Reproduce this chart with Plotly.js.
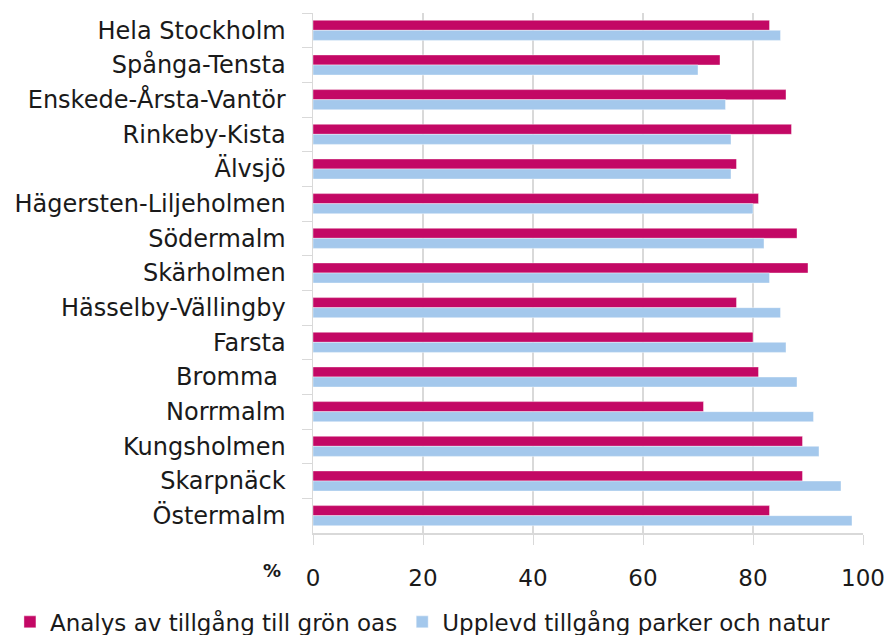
<!DOCTYPE html>
<html>
<head>
<meta charset="utf-8">
<script src="https://cdn.plot.ly/plotly-3.0.1.min.js"></script>
<style>html,body{margin:0;padding:0;background:#fff;}#chart{width:886px;height:635px;}</style>
</head>
<body>
<div id="chart"></div>
<script>
const categories = ["Hela Stockholm","Spånga-Tensta","Enskede-Årsta-Vantör","Rinkeby-Kista","Älvsjö","Hägersten-Liljeholmen","Södermalm","Skärholmen","Hässelby-Vällingby","Farsta","Bromma ","Norrmalm","Kungsholmen","Skarpnäck","Östermalm"];
const analysValues = [83,74,86,87,77,81,88,90,77,80,81,71,89,89,83];
const upplevdValues = [85,70,75,76,76,80,82,83,85,86,88,91,92,96,98];
const seriesNames = ["Analys av tillgång till grön oas","Upplevd tillgång parker och natur"];
const xTicks = [0,20,40,60,80,100];

const font = "'DejaVu Sans', sans-serif";
const traces = [
  {type:"bar", orientation:"h", name:seriesNames[0], y:categories, x:analysValues,
   marker:{color:"#C30865", line:{color:"rgba(255,255,255,0.5)", width:0.8}}, hoverinfo:"x+y"},
  {type:"bar", orientation:"h", name:seriesNames[1], y:categories, x:upplevdValues,
   marker:{color:"#A4C8EC", line:{color:"rgba(255,255,255,0.5)", width:0.8}}, hoverinfo:"x+y"}
];
const layout = {
  width:886, height:635,
  margin:{l:313, r:23, t:13, b:102, autoexpand:false},
  paper_bgcolor:"#fff", plot_bgcolor:"#fff",
  barmode:"group", bargap:0.42, bargroupgap:0,
  font:{family:font, size:24, color:"#1a1a1a"},
  xaxis:{range:[0,100], tickvals:xTicks, ticktext:xTicks.map(String), showgrid:true, gridcolor:"#d9d9d9", gridwidth:1.5,
         zeroline:false, showline:true, linecolor:"#d9d9d9", linewidth:1.5, ticks:"outside", ticklen:10, tickcolor:"#d9d9d9",
         ticklabelstandoff:14, tickfont:{family:font, size:23, color:"#1a1a1a"}, fixedrange:true, automargin:false},
  yaxis:{autorange:"reversed", showline:true, linecolor:"#d9d9d9", linewidth:1.5, ticks:"outside", ticklen:10, tickcolor:"#d9d9d9",
         tickson:"boundaries", ticklabelstandoff:21, showgrid:false, tickfont:{family:font, size:24, color:"#1a1a1a"}, fixedrange:true, automargin:false},
  legend:{orientation:"h", xref:"paper", yref:"paper", x:-0.551, xanchor:"left", y:-0.171, yanchor:"middle",
          bgcolor:"rgba(0,0,0,0)", font:{family:font, size:23, color:"#1a1a1a"}, itemwidth:30, tracegroupgap:0, traceorder:"normal"},
  annotations:[{text:"<b>%</b>", xref:"paper", yref:"paper", x:-0.075, y:0, yshift:-37, showarrow:false,
                font:{family:font, size:18, color:"#1a1a1a"}, xanchor:"center", yanchor:"middle"}],
  showlegend:true
};
Plotly.newPlot("chart", traces, layout, {displayModeBar:false, staticPlot:true});
</script>
</body>
</html>
